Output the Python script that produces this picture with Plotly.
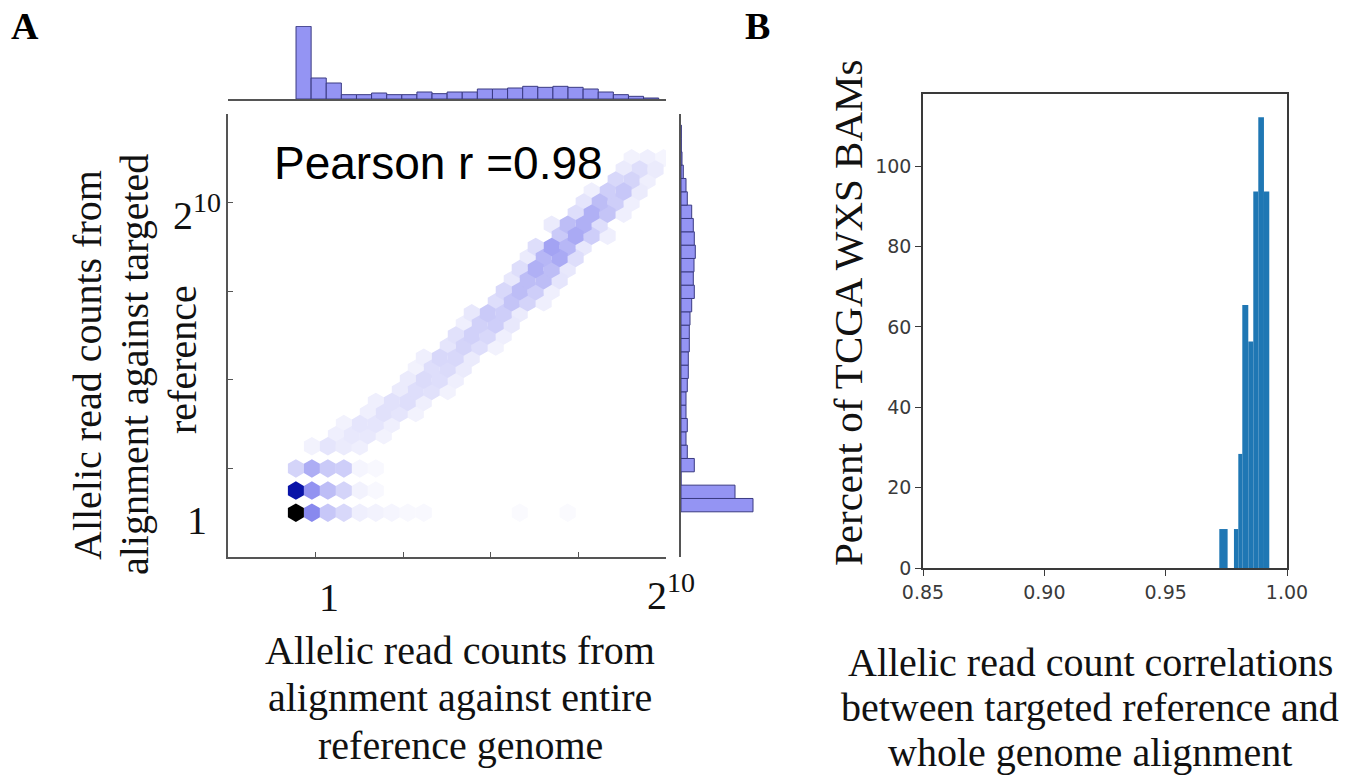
import plotly.graph_objects as go

W, H = 1359, 778

# ---------------- Panel A data ----------------
# hexbin lattice (log2 units): centre of cell (row r, col k)
X0, DX, Y0, DY = 1.55, 0.365, 1.0, 0.25
# (row index, first column index, relative densities 0..1)
HEX_ROWS = [
    (0, 0, [1.0, 0.36, 0.17, 0.12, 0.05, 0.04, 0.03, 0.02, 0.02]),
    (0, 14, [0.015]),
    (0, 17, [0.015]),
    (2, 0, [0.72, 0.33, 0.20, 0.13, 0.04, 0.02]),
    (4, 0, [0.13, 0.25, 0.16, 0.15, 0.03, 0.02]),
    (6, 1, [0.04, 0.08, 0.06, 0.05]),
    (7, 2, [0.05, 0.07, 0.07, 0.04]),
    (8, 3, [0.04, 0.08, 0.08, 0.05]),
    (9, 4, [0.05, 0.09, 0.08, 0.04]),
    (10, 5, [0.05, 0.09, 0.10, 0.05]),
    (11, 6, [0.06, 0.10, 0.09, 0.04]),
    (12, 7, [0.06, 0.11, 0.10, 0.05]),
    (13, 7, [0.04, 0.10, 0.11, 0.06]),
    (14, 8, [0.05, 0.12, 0.12, 0.06]),
    (15, 9, [0.08, 0.13, 0.10, 0.04]),
    (16, 10, [0.09, 0.14, 0.12, 0.05]),
    (17, 10, [0.05, 0.14, 0.15, 0.07]),
    (18, 11, [0.07, 0.16, 0.15, 0.06]),
    (19, 12, [0.10, 0.18, 0.13, 0.05]),
    (20, 13, [0.12, 0.20, 0.15, 0.05]),
    (21, 13, [0.07, 0.20, 0.20, 0.08]),
    (22, 14, [0.10, 0.24, 0.20, 0.07]),
    (23, 14, [0.06, 0.22, 0.26, 0.10]),
    (24, 15, [0.10, 0.28, 0.22, 0.07]),
    (25, 16, [0.16, 0.26, 0.15, 0.05]),
    (26, 16, [0.06, 0.20, 0.24, 0.10]),
    (27, 17, [0.10, 0.24, 0.18, 0.05]),
    (28, 18, [0.08, 0.20, 0.15, 0.05]),
    (29, 18, [0.05, 0.15, 0.17, 0.06]),
    (30, 20, [0.12, 0.13, 0.05]),
    (31, 20, [0.06, 0.10, 0.06]),
    (32, 21, [0.04, 0.05, 0.03]),
]

# marginal histogram on top (x) and right (y)
top_bin_start, top_bin_width = 1.553, 0.345
top_counts = [218, 63, 48, 13, 13, 18, 13, 13, 21, 16, 21, 21, 30, 30,
              33, 38, 35, 38, 35, 30, 21, 13, 8, 3]
right_bin_start, right_bin_width = 1.02, 0.301
right_counts = [72, 54, 0, 13.3, 6.3, 5, 6.3, 5, 5, 6.3, 7.3, 7.3, 8.3, 8.3,
                9, 10.7, 13.3, 12.3, 13, 14.3, 13.3, 12.3, 10.7, 6.3, 5, 2.3,
                1, 0.3, 0.3]

# ---------------- Panel B data ----------------
corr_left = [0.9721, 0.97814, 0.97993, 0.98158, 0.98405, 0.98611, 0.98817, 0.9905]
corr_right = [0.97553, 0.97993, 0.98158, 0.98405, 0.98611, 0.98817, 0.9905, 0.9927]
corr_pct = [9.7, 9.7, 28.4, 65.5, 56.4, 93.7, 112.2, 93.7]

# ---------------- figure ----------------
fig = go.Figure()

hx, hy, hv = [], [], []
for r, k0, vals in HEX_ROWS:
    for i, v in enumerate(vals):
        k = k0 + i
        hx.append(X0 + DX * (k + 0.5 * (r % 2)))
        hy.append(Y0 + DY * r)
        hv.append(v)
order = sorted(range(len(hv)), key=lambda i: hv[i])
fig.add_trace(go.Scatter(
    x=[hx[i] for i in order], y=[hy[i] for i in order], mode="markers",
    marker=dict(symbol="hexagon", size=18.5, showscale=False,
                color=[hv[i] for i in order], cmin=0, cmax=1,
                colorscale=[[0, "#ffffff"], [0.35, "#8c8cf0"],
                            [0.7, "#0a14b4"], [1, "#000000"]],
                line=dict(width=0)),
    xaxis="x", yaxis="y", showlegend=False, hoverinfo="skip"))

hist_fill = "#9494f3"
hist_edge = "#3a3a82"
fig.add_trace(go.Bar(
    x=[top_bin_start + top_bin_width * (i + 0.5) for i in range(len(top_counts))],
    y=top_counts, width=top_bin_width,
    marker=dict(color=hist_fill, line=dict(color=hist_edge, width=1)),
    xaxis="x2", yaxis="y2", showlegend=False, hoverinfo="skip"))
fig.add_trace(go.Bar(
    y=[right_bin_start + right_bin_width * (i + 0.5) for i in range(len(right_counts))],
    x=right_counts, width=right_bin_width, orientation="h",
    marker=dict(color=hist_fill, line=dict(color=hist_edge, width=1)),
    xaxis="x3", yaxis="y3", showlegend=False, hoverinfo="skip"))

fig.add_trace(go.Bar(
    x=[(a + b) / 2 for a, b in zip(corr_left, corr_right)],
    y=corr_pct, width=[b - a for a, b in zip(corr_left, corr_right)],
    marker=dict(color="#1f77b4", line=dict(width=0)),
    xaxis="x4", yaxis="y4", showlegend=False, hoverinfo="skip"))


def dx(p):
    return p / W


def dy(p):
    return 1 - p / H


spine = dict(showline=True, linecolor="#555555", linewidth=1.5, showgrid=False,
             zeroline=False, ticks="inside", ticklen=5, tickcolor="#555555",
             showticklabels=False, automargin=False)
boxax = dict(showline=True, mirror=True, linecolor="#3a3a3a", linewidth=1.5,
             showgrid=False, zeroline=False, ticks="outside", ticklen=6,
             tickcolor="#3a3a3a", automargin=False,
             tickfont=dict(family="DejaVu Sans", size=19, color="#3a3a3a"))

fig.update_layout(
    width=W, height=H, autosize=False,
    margin=dict(l=0, r=0, t=0, b=0, pad=0, autoexpand=False),
    paper_bgcolor="white", plot_bgcolor="white", barmode="overlay",
    showlegend=False,
    xaxis=dict(domain=[dx(228), dx(666)], range=[0, 10], anchor="y",
               tickvals=[2, 4, 6, 8, 10], **spine),
    yaxis=dict(domain=[dy(557), dy(114)], range=[0, 10], anchor="x",
               tickvals=[2, 4, 6, 8, 10], **spine),
    xaxis2=dict(domain=[dx(228), dx(666)], range=[0, 10], anchor="y2",
                tickvals=[0, 10], **spine),
    yaxis2=dict(domain=[dy(99), dy(26)], range=[0, 219], anchor="x2",
                visible=False, automargin=False),
    xaxis3=dict(domain=[dx(681), dx(760)], range=[0, 79], anchor="y3",
                visible=False, automargin=False),
    yaxis3=dict(domain=[dy(557), dy(114)], range=[0, 10], anchor="x3",
                tickvals=[0, 10], **spine),
    xaxis4=dict(domain=[dx(923), dx(1287)], range=[0.85, 1.0], anchor="y4",
                tickvals=[0.85, 0.90, 0.95, 1.00],
                ticktext=["0.85", "0.90", "0.95", "1.00"], **boxax),
    yaxis4=dict(domain=[dy(568), dy(94)], range=[0, 118], anchor="x4",
                tickvals=[0, 20, 40, 60, 80, 100], **boxax),
)

serif = "Liberation Serif"
ann = []


def text(t, x, y, size=40, family=serif, angle=0, color="#111111"):
    ann.append(dict(text=t, x=dx(x), y=dy(y), xref="paper", yref="paper",
                    xanchor="center", yanchor="middle", showarrow=False,
                    textangle=angle, font=dict(family=family, size=size,
                                               color=color)))


text("<b>A</b>", 25, 26, size=38, color="#000000")
text("<b>B</b>", 757, 26, size=38, color="#000000")
text("Pearson r =0.98", 438, 163, size=46, family="Liberation Sans",
     color="#000000")
# custom tick labels for panel A
text("1", 329, 597, size=40)
text("2<sup>10</sup>", 671, 592, size=40)
text("2<sup>10</sup>", 197, 212, size=40)
text("1", 197, 520, size=40)
# axis titles panel A
text("Allelic read counts from", 460, 650)
text("alignment against entire", 460, 697)
text("reference genome", 460, 745)
text("Allelic read counts from", 88, 365, angle=-90)
text("alignment against targeted", 135, 365, angle=-90)
text("reference", 182, 360, angle=-90)
# axis titles panel B
text("Allelic read count correlations", 1090, 662)
text("between targeted reference and", 1090, 707)
text("whole genome alignment", 1090, 752)
text("Percent of TCGA WXS BAMs", 848, 313, size=41, angle=-90)

fig.update_layout(annotations=ann)
fig.write_html(
    "out.html",
    config={"displayModeBar": False},
    post_script="document.body.style.margin='0';"
                "document.body.style.overflow='hidden';")
